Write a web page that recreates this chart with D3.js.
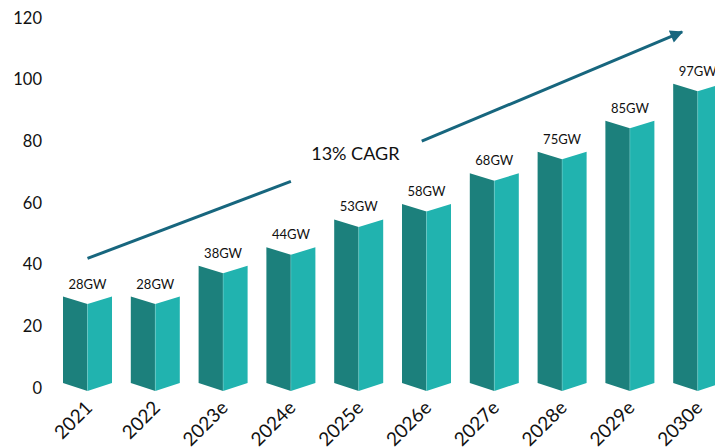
<!DOCTYPE html>
<html>
<head>
<meta charset="utf-8">
<script src="https://cdn.jsdelivr.net/npm/d3@7"></script>
<style>
  body { margin: 0; background: #fff; }
  text { font-family: Lato, "Open Sans", sans-serif; fill: #111; }
</style>
</head>
<body>
<div id="chart"></div>
<script>
var years = ['2021', '2022', '2023e', '2024e', '2025e', '2026e', '2027e', '2028e', '2029e', '2030e'];
var capacity = [28, 28, 38, 44, 53, 58, 68, 75, 85, 97];
var yTicks = [0, 20, 40, 60, 80, 100, 120];
var cagrLabel = '13% CAGR';

// arrow pieces, x in bar index units, y in GW
var arrowPart1 = [[0, 42], [3, 67]];
var arrowPart2 = [[4.93, 80], [8.77, 115.4]];
var cagrPos = [3.95, 74];

var width = 715,
  height = 448,
  halfBar = 24.5;

var svg = d3.select('#chart').append('svg')
  .attr('width', width)
  .attr('height', height);

var y = d3.scaleLinear()
  .domain([0, 120])
  .range([388, 17.8]);

var x = d3.scalePoint()
  .domain(years)
  .range([87.5, 697.7]);

var xi = d3.scaleLinear()
  .domain([0, years.length - 1])
  .range([87.5, 697.7]);

// y axis labels only
var yAxis = svg.append('g')
  .attr('transform', 'translate(45,0)')
  .call(d3.axisLeft(y).tickValues(yTicks).tickSize(0).tickPadding(3));
yAxis.select('.domain').remove();
yAxis.selectAll('text')
  .style('font-family', 'Lato, sans-serif')
  .style('font-size', '16.5px')
  .attr('fill', '#111');

var data = years.map(function(d, i) {
  return { year: d, value: capacity[i] };
});

var bars = svg.selectAll('.bar')
  .data(data)
  .enter().append('g').classed('bar', true);

var y0 = y(0);

bars.append('path')
  .attr('fill', '#1c807c')
  .attr('d', function(d) {
    var cx = x(d.year), top = y(d.value);
    return 'M' + (cx - halfBar) + ',' + (top - 5) +
      'L' + cx + ',' + (top + 2.5) +
      'L' + cx + ',' + (y0 + 3) +
      'L' + (cx - halfBar) + ',' + (y0 - 5) + 'Z';
  });

bars.append('path')
  .attr('fill', '#21b3af')
  .attr('d', function(d) {
    var cx = x(d.year), top = y(d.value);
    return 'M' + cx + ',' + (top + 2.5) +
      'L' + (cx + halfBar) + ',' + (top - 5) +
      'L' + (cx + halfBar) + ',' + (y0 - 5) +
      'L' + cx + ',' + (y0 + 3) + 'Z';
  });

bars.append('line')
  .attr('x1', function(d) { return x(d.year); })
  .attr('x2', function(d) { return x(d.year); })
  .attr('y1', function(d) { return y(d.value) + 2.5; })
  .attr('y2', y0 + 3)
  .attr('stroke', '#7fd6d2')
  .attr('stroke-width', 0.7)
  .attr('opacity', 0.6);

bars.append('text')
  .attr('x', function(d) { return x(d.year); })
  .attr('y', function(d) { return y(d.value) - 13; })
  .attr('text-anchor', 'middle')
  .style('font-size', '13px')
  .text(function(d) { return d.value + 'GW'; });

// rotated year labels
svg.selectAll('.xlab')
  .data(years)
  .enter().append('text').classed('xlab', true)
  .attr('text-anchor', 'end')
  .style('font-size', '19px')
  .attr('transform', function(d) {
    return 'translate(' + (x(d) + 6) + ',409) rotate(-45)';
  })
  .text(function(d) { return d; });

// CAGR arrow
var arrowColor = '#17667e';

svg.append('defs').append('marker')
  .attr('id', 'head')
  .attr('viewBox', '0 0 10 10')
  .attr('refX', 9)
  .attr('refY', 5)
  .attr('markerUnits', 'userSpaceOnUse')
  .attr('markerWidth', 15)
  .attr('markerHeight', 13)
  .attr('orient', 'auto')
  .append('path')
  .attr('d', 'M0,0L10,5L0,10Z')
  .attr('fill', arrowColor);

var arrowLine = d3.line()
  .x(function(d) { return xi(d[0]); })
  .y(function(d) { return y(d[1]); });

svg.append('path')
  .attr('d', arrowLine(arrowPart1))
  .attr('stroke', arrowColor)
  .attr('stroke-width', 3)
  .attr('fill', 'none');

svg.append('path')
  .attr('d', arrowLine(arrowPart2))
  .attr('stroke', arrowColor)
  .attr('stroke-width', 3)
  .attr('fill', 'none')
  .attr('marker-end', 'url(#head)');

svg.append('text')
  .attr('x', xi(cagrPos[0]))
  .attr('y', y(cagrPos[1]))
  .attr('text-anchor', 'middle')
  .style('font-size', '18px')
  .text(cagrLabel);
</script>
</body>
</html>
